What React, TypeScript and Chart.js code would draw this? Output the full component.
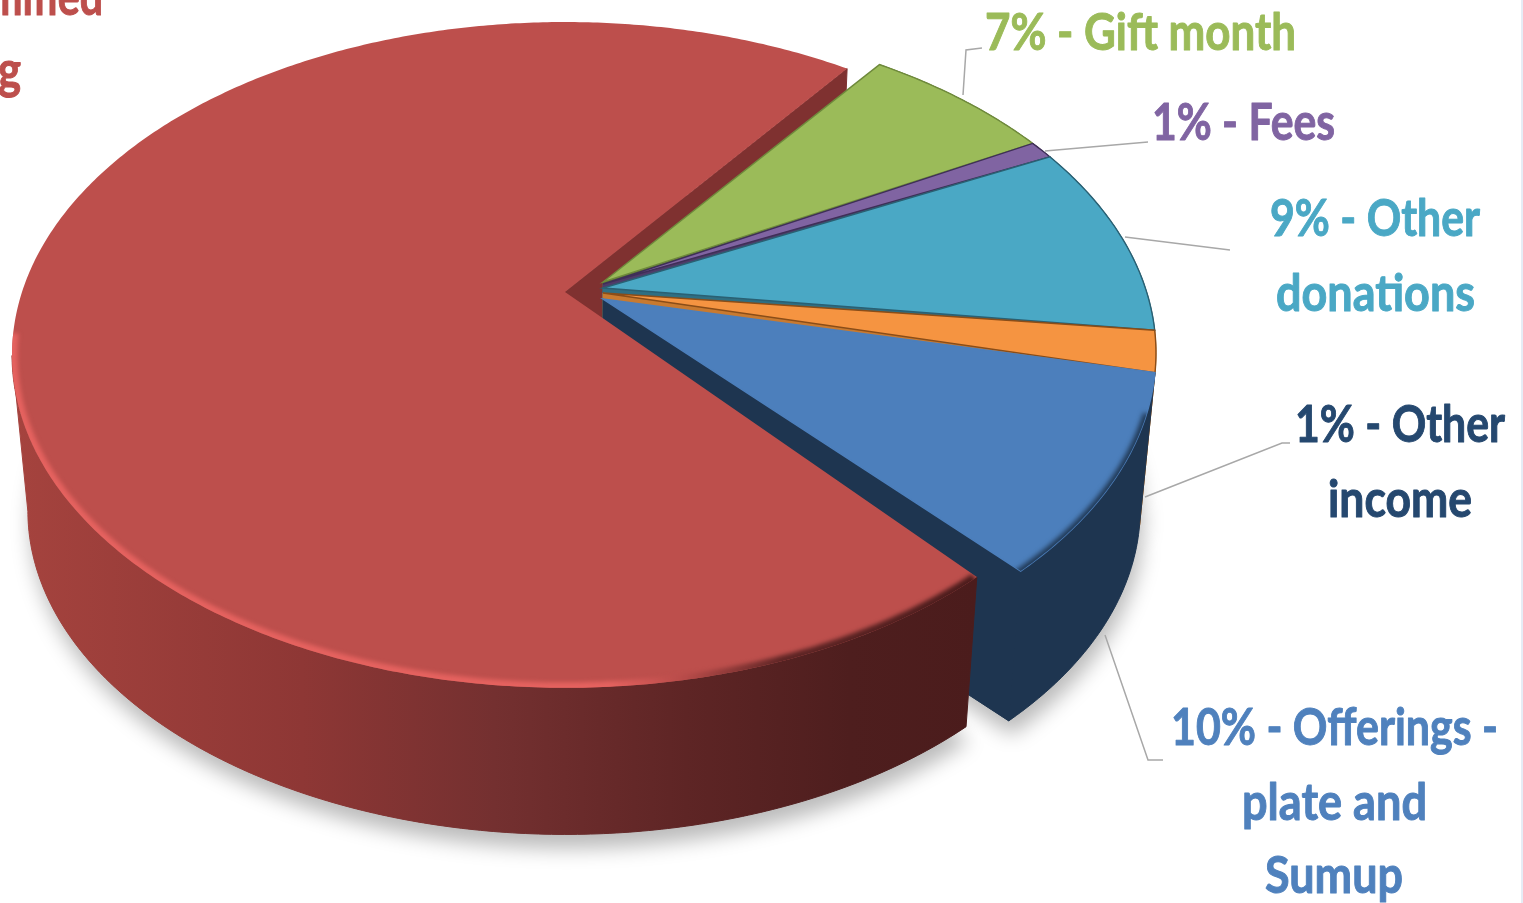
import React, { useEffect, useRef } from "react";
import { Chart, registerables } from "chart.js";

Chart.register(...registerables);

// ---- data ----
const CATEGORIES = ["Unified giving", "Gift month", "Fees", "Other donations", "Other income", "Offerings - plate and Sumup"];
const SHARES = [71.6, 6.7, 0.9, 9.4, 2.0, 9.6];
const TOP_COLORS = ["#bd4f4c", "#9bbb59", "#8064a2", "#4aa8c5", "#f59441", "#4c7fbc"];
const WALL_COLORS = ["#7f3130", "#5f7a33", "#4f3b69", "#2f6f83", "#c87a30", "#1e3550"];
const OUTLINE_COLORS = ["#bd4f4c", "#6f8a3c", "#3f2f58", "#2a6073", "#8a4d18", "#4c7fbc"];
const APEX_SHIFT = [0, -8, -6, -2, 3, 9];
const START_ANGLE = 138.7;

const LABEL_TEXT = ["mified", "g", "7% - Gift month", "1% - Fees", "9% - Other", "donations", "1% - Other", "income", "10% - Offerings -", "plate and", "Sumup"];
const LABEL_COLOR = ["#bd4f4c", "#bd4f4c", "#9bbb59", "#8064a2", "#4aa8c5", "#4aa8c5", "#25486f", "#25486f", "#4f81bd", "#4f81bd", "#4f81bd"];
const LABEL_LEFT = [-12, -2, 985, 1152, 1270, 1276, 1295, 1328, 1171, 1242, 1265];
const LABEL_RIGHT = [103, 21, 1296, 1335, 1480, 1475, 1505, 1472, 1498, 1427, 1403];
const LABEL_BASE = [15, 88, 50, 140, 236, 311, 442, 517, 745, 820, 893];
const LEADERS = [
  [[963, 95], [966, 50], [982, 48]],
  [[1045, 151], [1148, 142]],
  [[1125, 237], [1230, 250]],
  [[1145, 497], [1282, 443], [1290, 443]],
  [[1105, 635], [1148, 760], [1163, 760]],
];

// ---- perspective of the disc ----
const A = 543, B = 321, K = 0.189;
const VX = 586, VY = 6000, S = 0.9724;
const RED_C = [565, 292];
const REST_C = [603, 290];
const RED_TURN = (0.8 * Math.PI) / 180;
const LEFT_TANGENT = (169 * Math.PI) / 180;

type P = [number, number];
const proj = (c: number[], t: number): P => {
  const u = Math.cos(t), v = Math.sin(t), d = 1 - K * v;
  return [c[0] + (A * u) / d, c[1] + (B * v) / d];
};
const low = (p: number[]): P => [VX + (p[0] - VX) * S, VY + (p[1] - VY) * S];
const arcPts = (c: number[], a: number, b: number): P[] => {
  const n = Math.max(2, Math.ceil(Math.abs(b - a) / 0.01));
  const out: P[] = [];
  for (let i = 0; i <= n; i++) out.push(proj(c, a + ((b - a) * i) / n));
  return out;
};
const path = (ctx: CanvasRenderingContext2D, pts: number[][], close = true) => {
  ctx.beginPath();
  pts.forEach((p, i) => (i ? ctx.lineTo(p[0], p[1]) : ctx.moveTo(p[0], p[1])));
  if (close) ctx.closePath();
};

const disc3d = {
  id: "disc3d",
  beforeDatasetDraw(chart: any) {
    const ctx: CanvasRenderingContext2D = chart.ctx;
    const arcs = chart.getDatasetMeta(0).data.map((el: any, i: number) => {
      const p = el.getProps(["startAngle", "endAngle"], true);
      const turn = i === 0 ? RED_TURN : 0;
      return { startAngle: p.startAngle + turn, endAngle: p.endAngle + turn };
    });
    const centre = (i: number) => (i === 0 ? RED_C : REST_C);
    const apex = (i: number): P => [centre(i)[0], centre(i)[1] + APEX_SHIFT[i]];

    // soft shadow under the lower plane
    ctx.save();
    ctx.shadowColor = "rgba(0,0,0,0.27)";
    ctx.shadowBlur = 20;
    ctx.shadowOffsetY = 14;
    ctx.shadowOffsetX = 3;
    ctx.fillStyle = "#777";
    arcs.forEach((a: any, i: number) => {
      path(ctx, [apex(i), ...arcPts(centre(i), a.startAngle, a.endAngle)].map(low));
      ctx.fill();
    });
    ctx.restore();

    const wall = (i: number, a: number, b: number, fill: any) => {
      const top = arcPts(centre(i), a, b);
      path(ctx, [...top, ...top.slice().reverse().map(low)]);
      ctx.fillStyle = fill;
      ctx.strokeStyle = fill;
      ctx.lineWidth = 1;
      ctx.fill();
      ctx.stroke();
    };
    const radial = (i: number, t: number, fill: string) => {
      const e = proj(centre(i), t), o = apex(i);
      path(ctx, [o, e, low(e), low(o)]);
      ctx.fillStyle = fill;
      ctx.strokeStyle = fill;
      ctx.lineWidth = 1;
      ctx.fill();
      ctx.stroke();
    };

    // cut face of the large slice, seen through the gap
    radial(0, arcs[0].endAngle, WALL_COLORS[0]);

    // the smaller slices, back to front
    for (let i = 1; i < arcs.length; i++) {
      wall(i, arcs[i].startAngle, arcs[i].endAngle, WALL_COLORS[i]);
      radial(i, arcs[i].endAngle, WALL_COLORS[i]);
    }
    for (let i = 1; i < arcs.length; i++) {
      path(ctx, [apex(i), ...arcPts(centre(i), arcs[i].startAngle, arcs[i].endAngle)]);
      ctx.fillStyle = TOP_COLORS[i];
      ctx.fill();
      ctx.strokeStyle = OUTLINE_COLORS[i];
      ctx.lineWidth = 1.4;
      ctx.stroke();
    }
    // soft rim on the blue slice
    ctx.save();
    path(ctx, [apex(5), ...arcPts(REST_C, arcs[5].startAngle, arcs[5].endAngle)]);
    ctx.clip();
    ctx.filter = "blur(2.5px)";
    ctx.strokeStyle = "#1e3550";
    ctx.lineWidth = 7;
    path(ctx, arcPts(REST_C, arcs[5].startAngle + 0.12, arcs[5].endAngle + 0.05), false);
    ctx.stroke();
    ctx.restore();

    // large slice: outer wall (front part only), then top
    const wg = ctx.createLinearGradient(14, 0, 975, 0);
    wg.addColorStop(0, "#a5433e");
    wg.addColorStop(0.3, "#8e3735");
    wg.addColorStop(0.5, "#743030");
    wg.addColorStop(0.7, "#5e2525");
    wg.addColorStop(0.87, "#4e1e1e");
    wg.addColorStop(1, "#4b1c1c");
    wall(0, arcs[0].startAngle, LEFT_TANGENT, wg);
    path(ctx, [apex(0), ...arcPts(RED_C, arcs[0].startAngle, arcs[0].endAngle)]);
    ctx.fillStyle = TOP_COLORS[0];
    ctx.fill();

    // rim light along the front edge of the top
    ctx.save();
    path(ctx, [apex(0), ...arcPts(RED_C, arcs[0].startAngle, arcs[0].endAngle)]);
    ctx.clip();
    ctx.filter = "blur(2px)";
    const rg = ctx.createLinearGradient(14, 0, 975, 0);
    rg.addColorStop(0, "#e5625f");
    rg.addColorStop(0.62, "#e5625f");
    rg.addColorStop(0.7, "#b54a48");
    rg.addColorStop(0.8, "#5e2525");
    rg.addColorStop(1, "#4b1c1c");
    ctx.strokeStyle = rg;
    ctx.lineWidth = 11;
    path(ctx, arcPts(RED_C, arcs[0].startAngle + 0.005, Math.PI * 0.96), false);
    ctx.stroke();
    ctx.restore();

    return false;
  },
  afterDraw(chart: any) {
    const ctx: CanvasRenderingContext2D = chart.ctx;
    ctx.save();
    // leader lines
    ctx.strokeStyle = "#a8a8a8";
    ctx.lineWidth = 1.5;
    LEADERS.forEach((l) => {
      path(ctx, l, false);
      ctx.stroke();
    });
    // labels
    ctx.filter = "blur(0.7px)";
    ctx.font = "700 52px Lato, 'Open Sans', sans-serif";
    ctx.textAlign = "left";
    ctx.textBaseline = "alphabetic";
    ctx.lineWidth = 1;
    ctx.lineJoin = "round";
    LABEL_TEXT.forEach((t, i) => {
      const w = ctx.measureText(t).width;
      ctx.save();
      ctx.translate(LABEL_LEFT[i], LABEL_BASE[i]);
      ctx.scale((LABEL_RIGHT[i] - LABEL_LEFT[i]) / w, 1);
      ctx.fillStyle = LABEL_COLOR[i];
      ctx.strokeStyle = LABEL_COLOR[i];
      ctx.fillText(t, 0, 0);
      ctx.strokeText(t, 0, 0);
      ctx.restore();
    });
    ctx.filter = "none";
    // edge of the source picture
    ctx.fillStyle = "#e6ecf5";
    ctx.fillRect(1521, 0, 2, 903);
    ctx.restore();
  },
};

export default function App() {
  const ref = useRef<HTMLCanvasElement>(null);
  useEffect(() => {
    const chart = new Chart(ref.current as HTMLCanvasElement, {
      type: "pie",
      data: {
        labels: CATEGORIES,
        datasets: [{ data: SHARES, backgroundColor: TOP_COLORS, borderWidth: 0 }],
      },
      options: {
        responsive: false,
        animation: false,
        rotation: START_ANGLE,
        plugins: { legend: { display: false }, tooltip: { enabled: false } },
      },
      plugins: [disc3d],
    } as any);
    return () => chart.destroy();
  }, []);
  return (
    <canvas
      ref={ref}
      width={1523}
      height={903}
      style={{ position: "absolute", left: 0, top: 0, display: "block", background: "#fff" }}
    />
  );
}
